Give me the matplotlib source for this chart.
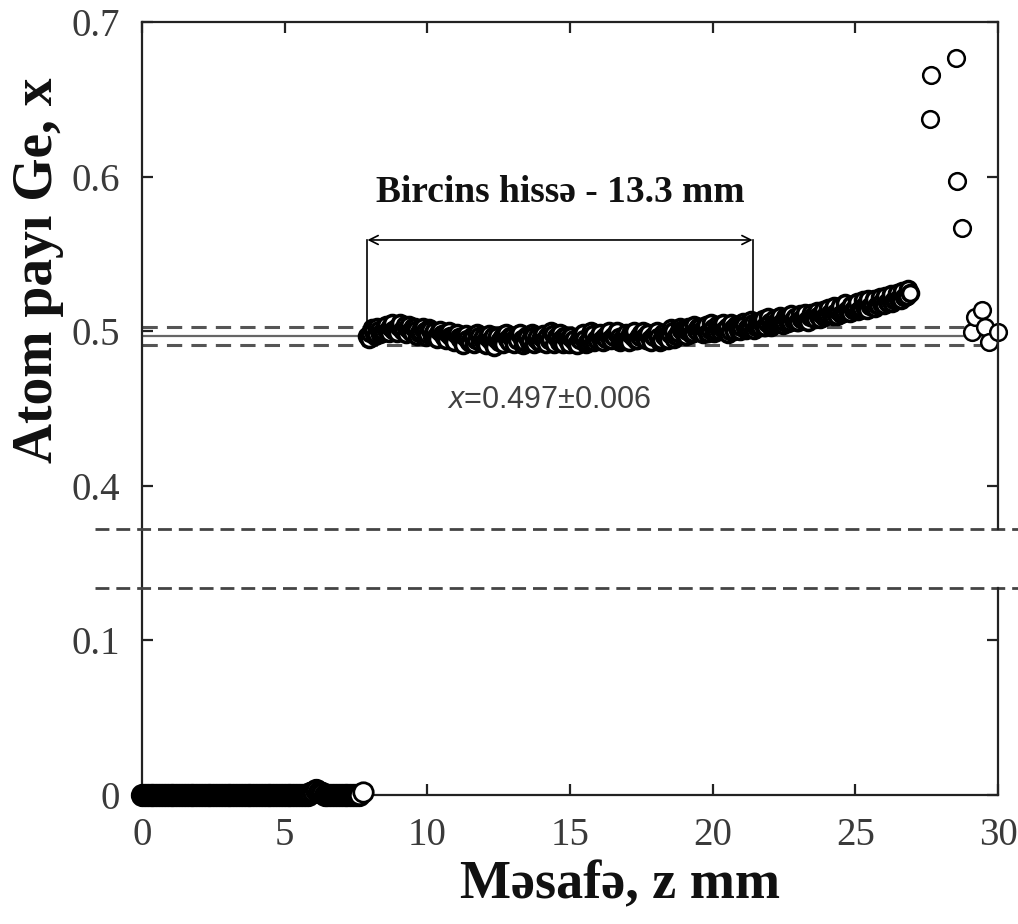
import numpy as np
import matplotlib
matplotlib.use("Agg")
import matplotlib.pyplot as plt
from matplotlib.ticker import FixedLocator

plt.rcParams['mathtext.fontset'] = 'custom'
plt.rcParams['mathtext.it'] = 'Liberation Sans:italic'
plt.rcParams['mathtext.rm'] = 'Liberation Sans'

# ---------------- data ----------------
# plateau region, scan A: z from 7.9 to 26.9 mm (0.1 mm step)
zA_start, zA_step = 7.9, 0.1
xA = [
    0.497,
    0.499, 0.500, 0.498, 0.501, 0.499, 0.502, 0.500, 0.503, 0.501, 0.502,
    0.503, 0.501, 0.504, 0.502, 0.500, 0.503, 0.501, 0.499, 0.502, 0.500,
    0.498, 0.501, 0.499, 0.497, 0.500, 0.498, 0.496, 0.499, 0.497, 0.495,
    0.498, 0.496, 0.494, 0.497, 0.495, 0.493, 0.496, 0.494, 0.497, 0.495,
    0.493, 0.496, 0.494, 0.497, 0.495, 0.493, 0.496, 0.498, 0.495, 0.497,
    0.494, 0.496, 0.498, 0.495, 0.493, 0.496, 0.494, 0.497, 0.495, 0.493,
    0.496, 0.494, 0.497, 0.495, 0.498, 0.496, 0.493, 0.495, 0.497, 0.494,
    0.496, 0.494, 0.492, 0.495, 0.497, 0.495, 0.493, 0.496, 0.498, 0.495,
    0.497, 0.494, 0.496, 0.498, 0.495, 0.497, 0.499, 0.496, 0.494, 0.497,
    0.495, 0.498, 0.496, 0.494, 0.497, 0.499, 0.496, 0.498, 0.495, 0.497,
    0.499, 0.496, 0.494, 0.497, 0.495, 0.498, 0.500, 0.497, 0.499, 0.501,
    0.498, 0.500, 0.502, 0.499, 0.501, 0.503, 0.500, 0.502, 0.499, 0.501,
    0.502, 0.500, 0.502, 0.503, 0.501, 0.503, 0.500, 0.502, 0.504, 0.501,
    0.503, 0.504, 0.502, 0.504, 0.505, 0.503, 0.504, 0.506, 0.503, 0.505,
    0.506, 0.504, 0.505, 0.507, 0.505, 0.506, 0.508, 0.506, 0.507, 0.509,
    0.506, 0.508, 0.509, 0.507, 0.509, 0.510, 0.508, 0.510, 0.511, 0.509,
    0.511, 0.512, 0.510, 0.512, 0.513, 0.511, 0.513, 0.514, 0.512, 0.514,
    0.515, 0.513, 0.515, 0.516, 0.514, 0.516, 0.517, 0.515, 0.517, 0.518,
    0.517, 0.519, 0.520, 0.518, 0.520, 0.521, 0.520, 0.522, 0.523, 0.525,
]
# plateau region, scan B: z from 7.95 to 26.85 mm (0.1 mm step)
zB_start, zB_step = 7.95, 0.1
xB = [
    0.495, 0.502, 0.497, 0.503, 0.498, 0.500, 0.504, 0.499, 0.505, 0.500,
    0.499, 0.505, 0.500, 0.498, 0.504, 0.499, 0.503, 0.497, 0.500, 0.503,
    0.496, 0.502, 0.497, 0.500, 0.495, 0.501, 0.498, 0.494, 0.500, 0.496,
    0.493, 0.499, 0.495, 0.491, 0.498, 0.493, 0.497, 0.492, 0.499, 0.493,
    0.496, 0.491, 0.498, 0.493, 0.490, 0.497, 0.494, 0.492, 0.499, 0.493,
    0.497, 0.492, 0.494, 0.499, 0.491, 0.497, 0.493, 0.499, 0.492, 0.496,
    0.493, 0.498, 0.492, 0.494, 0.500, 0.492, 0.497, 0.499, 0.492, 0.497,
    0.492, 0.497, 0.495, 0.491, 0.494, 0.499, 0.492, 0.494, 0.500, 0.493,
    0.494, 0.499, 0.493, 0.495, 0.500, 0.494, 0.496, 0.500, 0.493, 0.495,
    0.499, 0.493, 0.498, 0.500, 0.494, 0.496, 0.500, 0.494, 0.499, 0.493,
    0.496, 0.500, 0.493, 0.499, 0.497, 0.494, 0.502, 0.495, 0.497, 0.503,
    0.500, 0.497, 0.503, 0.498, 0.504, 0.500, 0.503, 0.498, 0.504, 0.499,
    0.505, 0.499, 0.504, 0.500, 0.505, 0.501, 0.498, 0.505, 0.500, 0.503,
    0.500, 0.506, 0.501, 0.503, 0.507, 0.501, 0.506, 0.503, 0.508, 0.503,
    0.509, 0.503, 0.508, 0.505, 0.510, 0.504, 0.509, 0.505, 0.511, 0.507,
    0.506, 0.511, 0.507, 0.512, 0.506, 0.512, 0.509, 0.513, 0.508, 0.514,
    0.510, 0.515, 0.511, 0.516, 0.510, 0.516, 0.512, 0.518, 0.513, 0.517,
    0.514, 0.519, 0.514, 0.520, 0.515, 0.521, 0.516, 0.521, 0.517, 0.522,
    0.519, 0.523, 0.518, 0.524, 0.520, 0.525, 0.521, 0.526, 0.522, 0.527,
]
# Ge-free region, z from 0 to 7.6 mm (0.1 mm step)
z_zero_start, z_zero_step = 0.0, 0.1
x_zero = [
    0.000, 0.000, 0.000, 0.000, 0.000, 0.000, 0.000, 0.000, 0.000, 0.000,
    0.000, 0.000, 0.000, 0.000, 0.000, 0.000, 0.000, 0.000, 0.000, 0.000,
    0.000, 0.000, 0.000, 0.000, 0.000, 0.000, 0.000, 0.000, 0.000, 0.000,
    0.000, 0.000, 0.000, 0.000, 0.000, 0.000, 0.000, 0.000, 0.000, 0.000,
    0.000, 0.000, 0.000, 0.000, 0.000, 0.000, 0.000, 0.000, 0.000, 0.000,
    0.000, 0.000, 0.000, 0.000, 0.000, 0.000, 0.000, 0.000, 0.000, 0.001,
    0.002, 0.003, 0.002, 0.001, 0.000, 0.000, 0.000, 0.000, 0.000, 0.000,
    0.000, 0.000, 0.000, 0.000, 0.000, 0.000, 0.000,
]
z_edge = [7.75]
x_edge = [0.002]
# end region scatter
z_end = [27.62, 27.65, 28.53, 28.57, 28.74, 29.10, 29.20, 29.45, 29.55, 29.70, 30.00]
x_end = [0.637, 0.666, 0.677, 0.597, 0.567, 0.4995, 0.509, 0.514, 0.503, 0.493, 0.4995]

x_mean, x_err = 0.497, 0.006
uni_start, uni_end = 7.9, 21.4
uni_label = "Bircins hiss\u0259 - 13.3 mm"
break_low, break_high = 0.134, 0.372

xticks = [0, 5, 10, 15, 20, 25, 30]
yticks = [0, 0.1, 0.4, 0.5, 0.6, 0.7]
ytick_labels = ['0', '0.1', '0.4', '0.5', '0.6', '0.7']

zA = zA_start + zA_step * np.arange(len(xA))
zB = zB_start + zB_step * np.arange(len(xB))
z_band = np.concatenate([zA, zB])
x_band = np.concatenate([xA, xB])
order = np.argsort(z_band, kind='stable')
z_band, x_band = z_band[order], x_band[order]
z_zero = z_zero_start + z_zero_step * np.arange(len(x_zero))

# ------------- broken axis scale -------------
def fwd(a):
    a = np.asarray(a, dtype=float)
    return np.where(a < 0.25, a + 0.2, a)

def inv(d):
    d = np.asarray(d, dtype=float)
    return np.where(d < 0.3525, d - 0.2, d)

fig = plt.figure(figsize=(10.18, 9.24), dpi=100)
ax = fig.add_axes([0.1395, 0.1396, 0.8409, 0.8366])
ax.set_yscale('function', functions=(fwd, inv))
ax.set_xlim(0, 30)
ax.set_ylim(0, 0.7)

serif = 'Liberation Serif'
tick_col = '#3a3a3a'

# reference lines
ax.axhline(x_mean, color='#666666', lw=1.6, zorder=1)
ax.axhline(x_mean + x_err, color='#555555', lw=2.2, ls=(0, (5, 3)), zorder=1)
ax.axhline(x_mean - x_err, color='#555555', lw=2.2, ls=(0, (5, 3)), zorder=1)

# data
mk = dict(marker='o', ls='none', mfc='white', mec='black')
ax.plot(z_zero, x_zero, ms=14, mew=2.8, clip_on=False, zorder=3, **mk)
ax.plot(z_edge, x_edge, ms=14, mew=2.0, clip_on=False, zorder=3, **mk)
ax.plot(z_band, x_band, ms=11.5, mew=2.6, clip_on=False, zorder=3, **mk)
ax.plot(z_end, x_end, ms=12, mew=1.8, clip_on=False, zorder=3, **mk)

# homogeneous-section bracket
y_arr = 0.559
ax.plot([uni_start, uni_start], [x_mean, y_arr], color='black', lw=1.2, zorder=2)
ax.plot([uni_end, uni_end], [x_mean + x_err, y_arr], color='black', lw=1.2, zorder=2)
ax.annotate('', xy=(uni_end, y_arr), xytext=(uni_start, y_arr),
            arrowprops=dict(arrowstyle='<->', color='black', lw=1.2,
                            shrinkA=0, shrinkB=0, mutation_scale=16))
ax.text((uni_start + uni_end) / 2, 0.5895, uni_label, ha='center', va='center',
        family=serif, fontweight='bold', fontsize=27, color='#111111')
ax.text(14.27, 0.4556, '$x$=0.497\u00b10.006',
        ha='center', va='center', family='Liberation Sans', fontsize=22, color='#404040')

# axis break lines
yt = ax.get_yaxis_transform()
for yb in (break_low, break_high):
    ax.plot([-0.055, 1.05], [yb, yb], transform=yt, color='#444444', lw=2.0,
            ls=(0, (5, 2.5)), clip_on=False, zorder=4)

# spines
for s in ('left', 'top', 'bottom'):
    ax.spines[s].set_linewidth(1.6)
    ax.spines[s].set_color('#222222')
ax.spines['right'].set_visible(False)
ax.plot([1, 1], [break_high, 0.7], transform=yt, color='#222222', lw=1.6, clip_on=False, zorder=5)
ax.plot([1, 1], [0, break_low], transform=yt, color='#222222', lw=1.6, clip_on=False, zorder=5)

# ticks
ax.xaxis.set_major_locator(FixedLocator(xticks))
ax.yaxis.set_major_locator(FixedLocator(yticks))
ax.set_yticklabels(ytick_labels)
ax.minorticks_off()
ax.tick_params(axis='both', direction='in', length=8, width=1.6, color='#222222',
               top=True, right=True, labelsize=28, labelcolor=tick_col)
ax.tick_params(axis='y', pad=16)
ax.tick_params(axis='x', pad=16)
for lab in ax.get_xticklabels() + ax.get_yticklabels():
    lab.set_family(serif)

# axis titles
fig.text(620 / 1018, 1 - 885 / 924, "M\u0259saf\u0259, z mm", ha='center', va='center',
         family=serif, fontweight='bold', fontsize=39, color='#111111')
fig.text(38 / 1018, 1 - 270 / 924, "Atom pay\u0131 Ge, x", ha='center', va='center',
         rotation=90, family=serif, fontweight='bold', fontsize=40, color='#111111')

fig.savefig('out.png', dpi=100)
